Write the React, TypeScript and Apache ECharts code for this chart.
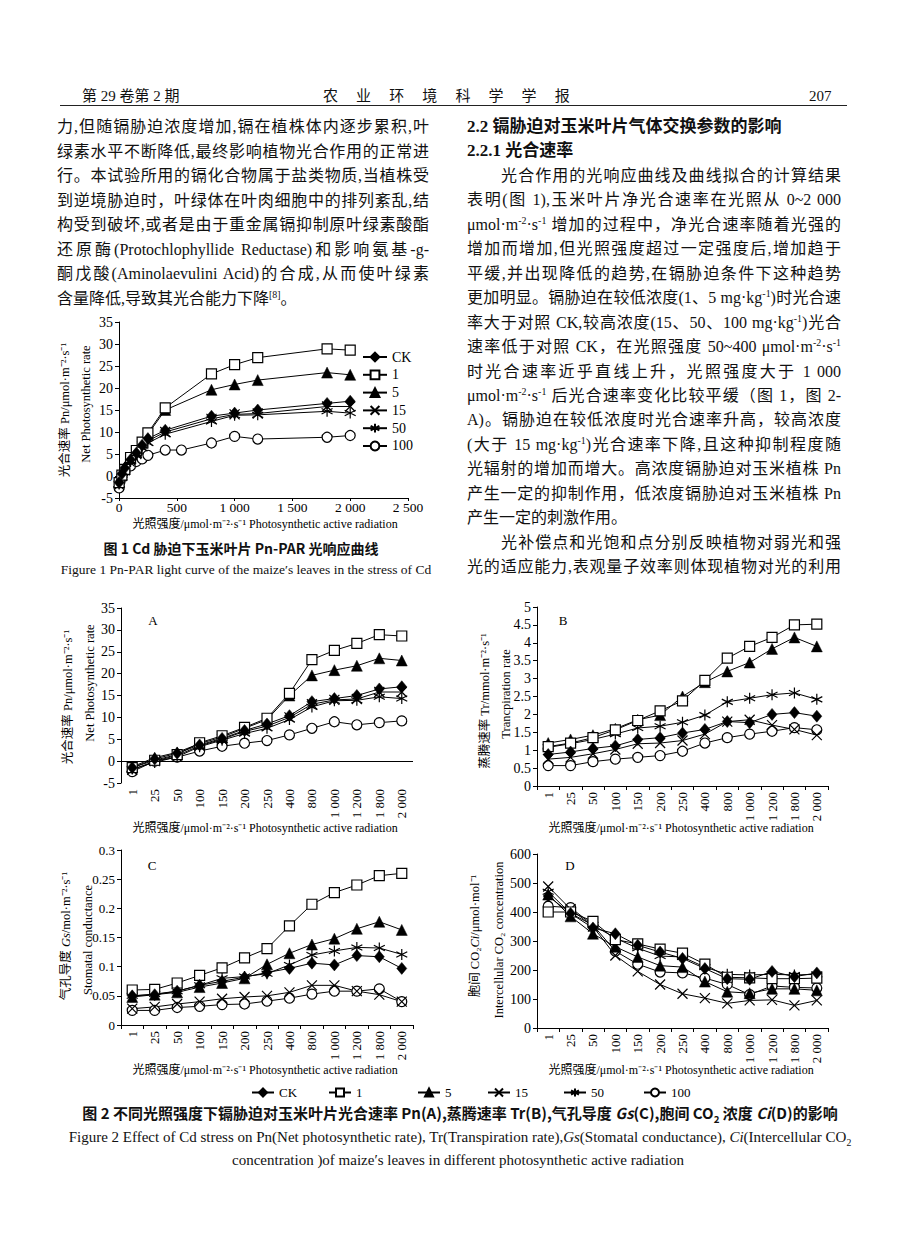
import React, { useEffect, useRef } from 'react';
import * as echarts from 'echarts';

const FONT = '"Liberation Serif", "Noto Sans CJK SC", serif';
const CJK = '"Noto Sans CJK SC", "Liberation Serif", sans-serif';

// ---------- data ----------
const SERIES_NAMES = ['CK', '1', '5', '15', '50', '100'];
const PAR_CATS = ['1', '25', '50', '100', '150', '200', '250', '400', '800', '1 000', '1 200', '1 800', '2 000'];
const PAR_VALUES = [1, 25, 50, 100, 150, 200, 250, 400, 800, 1000, 1200, 1800, 2000];

// Fig 2A Pn
const PN_CK = [-1.5, 0.5, 1.8, 3.7, 5.2, 7.0, 8.5, 10.4, 13.6, 14.3, 15.0, 16.5, 17.0];
const PN_1 = [-1.5, 0.2, 1.5, 4.2, 5.8, 7.7, 9.8, 15.5, 23.2, 25.3, 26.9, 28.9, 28.6];
const PN_5 = [-1.3, 0.8, 2.0, 4.0, 5.5, 7.5, 9.5, 15.0, 19.6, 20.8, 21.8, 23.5, 23.0];
const PN_15 = [-2.0, 0.0, 1.3, 3.5, 5.0, 6.8, 8.0, 10.0, 13.0, 14.0, 14.2, 15.8, 15.8];
const PN_50 = [-1.8, -0.3, 1.0, 3.3, 4.8, 6.3, 7.5, 9.5, 12.4, 13.8, 13.9, 14.7, 14.3];
const PN_100 = [-2.4, 0.0, 0.9, 2.3, 3.4, 4.1, 4.7, 6.0, 7.5, 9.0, 8.3, 8.8, 9.2];

// Fig 1, 100 mg/kg curve (has its own PAR points)
const FIG1_PAR_100 = [1, 10, 25, 50, 100, 150, 200, 250, 400, 540, 800, 1000, 1200, 1800, 2000];
const FIG1_PN_100 = [-2.7, -1.2, 0.0, 1.1, 2.3, 3.3, 3.9, 4.7, 5.9, 5.9, 7.5, 9.0, 8.4, 8.8, 9.2];

// Fig 2B Tr
const TR_CK = [0.88, 0.95, 1.05, 1.12, 1.3, 1.35, 1.48, 1.58, 1.8, 1.77, 2.0, 2.05, 1.95];
const TR_1 = [1.1, 1.2, 1.35, 1.57, 1.83, 2.1, 2.38, 2.95, 3.57, 3.9, 4.15, 4.5, 4.52];
const TR_5 = [1.2, 1.3, 1.42, 1.6, 1.85, 1.98, 2.5, 2.9, 3.2, 3.45, 3.83, 4.15, 3.9];
const TR_15 = [0.75, 0.8, 0.9, 1.02, 1.18, 1.2, 1.27, 1.45, 1.8, 1.85, 1.7, 1.58, 1.42];
const TR_50 = [1.08, 1.18, 1.3, 1.45, 1.62, 1.67, 1.78, 1.98, 2.35, 2.45, 2.55, 2.6, 2.42];
const TR_100 = [0.57, 0.57, 0.68, 0.75, 0.8, 0.85, 0.97, 1.2, 1.35, 1.45, 1.53, 1.63, 1.57];

// Fig 2C Gs
const GS_CK = [0.05, 0.052, 0.058, 0.068, 0.075, 0.082, 0.09, 0.097, 0.106, 0.103, 0.119, 0.117, 0.097];
const GS_1 = [0.06, 0.061, 0.072, 0.085, 0.098, 0.115, 0.131, 0.17, 0.207, 0.227, 0.24, 0.256, 0.26];
const GS_5 = [0.048, 0.052, 0.056, 0.065, 0.072, 0.08, 0.104, 0.123, 0.138, 0.148, 0.165, 0.177, 0.163];
const GS_15 = [0.028, 0.031, 0.036, 0.04, 0.045, 0.048, 0.05, 0.056, 0.068, 0.068, 0.058, 0.052, 0.04];
const GS_50 = [0.05, 0.053, 0.058, 0.068, 0.08, 0.083, 0.088, 0.103, 0.12, 0.127, 0.133, 0.132, 0.121];
const GS_100 = [0.025, 0.025, 0.03, 0.032, 0.035, 0.036, 0.041, 0.046, 0.053, 0.058, 0.058, 0.062, 0.04];

// Fig 2D Ci
const CI_CK = [455, 395, 345, 325, 285, 262, 240, 205, 170, 168, 195, 177, 190];
const CI_1 = [400, 400, 368, 305, 290, 272, 258, 220, 175, 173, 170, 170, 172];
const CI_5 = [460, 385, 325, 280, 245, 215, 210, 160, 125, 120, 135, 135, 130];
const CI_15 = [488, 410, 350, 250, 195, 150, 118, 103, 85, 95, 97, 78, 95];
const CI_50 = [470, 395, 355, 310, 275, 248, 245, 210, 185, 183, 185, 183, 185];
const CI_100 = [420, 415, 355, 265, 220, 193, 190, 172, 150, 115, 145, 140, 138];

// ---------- text ----------
const LEFT_LINES = [
  '力,但随镉胁迫浓度增加,镉在植株体内逐步累积,叶',
  '绿素水平不断降低,最终影响植物光合作用的正常进',
  '行。本试验所用的镉化合物属于盐类物质,当植株受',
  '到逆境胁迫时，叶绿体在叶肉细胞中的排列紊乱,结',
  '构受到破坏,或者是由于重金属镉抑制原叶绿素酸酯',
  '还原酶(Protochlophyllide Reductase)和影响氨基-g-',
  '酮戊酸(Aminolaevulini Acid)的合成,从而使叶绿素',
  '含量降低,导致其光合能力下降^{[8]}。',
];
const LEFT_LAST = [7];

const RIGHT_LINES = [
  '2.2  镉胁迫对玉米叶片气体交换参数的影响',
  '2.2.1  光合速率',
  '　　光合作用的光响应曲线及曲线拟合的计算结果',
  '表明(图 1),玉米叶片净光合速率在光照从 0~2 000',
  'μmol·m^{-2}·s^{-1} 增加的过程中，净光合速率随着光强的',
  '增加而增加,但光照强度超过一定强度后,增加趋于',
  '平缓,并出现降低的趋势,在镉胁迫条件下这种趋势',
  '更加明显。镉胁迫在较低浓度(1、5 mg·kg^{-1})时光合速',
  '率大于对照 CK,较高浓度(15、50、100 mg·kg^{-1})光合',
  '速率低于对照 CK，在光照强度 50~400 μmol·m^{-2}·s^{-1}',
  '时光合速率近乎直线上升，光照强度大于 1 000',
  'μmol·m^{-2}·s^{-1} 后光合速率变化比较平缓（图 1，图 2-',
  'A)。镉胁迫在较低浓度时光合速率升高，较高浓度',
  '(大于 15 mg·kg^{-1})光合速率下降,且这种抑制程度随',
  '光辐射的增加而增大。高浓度镉胁迫对玉米植株 Pn',
  '产生一定的抑制作用，低浓度镉胁迫对玉米植株 Pn',
  '产生一定的刺激作用。',
  '　　光补偿点和光饱和点分别反映植物对弱光和强',
  '光的适应能力,表观量子效率则体现植物对光的利用',
];
const RIGHT_BOLD = [0, 1];
const RIGHT_LAST = [0, 1, 16];

// ---------- chart helpers ----------
const SYM: Record<string, any> = {
  CK: { symbol: 'diamond', size: [10, 12], kind: 'filled' },
  '1': { symbol: 'rect', size: 10, kind: 'open' },
  '5': { symbol: 'triangle', size: 11, kind: 'filled' },
  '15': { symbol: 'path://M0,0L10,10M10,0L0,10', size: 10, kind: 'stroke' },
  '50': { symbol: 'path://M5,0L5,10M0,2.5L10,7.5M0,7.5L10,2.5', size: 11, kind: 'stroke' },
  '100': { symbol: 'circle', size: 10, kind: 'open' },
};

function itemStyleFor(name: string) {
  const k = SYM[name].kind;
  if (k === 'filled') return { color: '#000', borderColor: '#000', borderWidth: 0.5 };
  if (k === 'open') return { color: '#fff', borderColor: '#000', borderWidth: 1.2 };
  return { color: 'rgba(0,0,0,0)', borderColor: '#000', borderWidth: 1.2 };
}

function mkSeries(name: string, data: any[], gi: number, extra: any = {}) {
  return {
    type: 'line',
    name,
    xAxisIndex: gi,
    yAxisIndex: gi,
    data,
    symbol: SYM[name].symbol,
    symbolSize: SYM[name].size,
    showAllSymbol: true,
    lineStyle: { color: '#000', width: 1 },
    itemStyle: itemStyleFor(name),
    emphasis: { disabled: true },
    silent: true,
    ...extra,
  };
}

const thousands = (v: number) =>
  v >= 1000 ? `${Math.floor(v / 1000)} ${String(v % 1000).padStart(3, '0')}` : String(v);

const lineBlack = { show: true, onZero: false, lineStyle: { color: '#000', width: 1 } };

function yAxis(gi: number, min: number, max: number, interval: number, fontSize = 14) {
  return {
    type: 'value',
    gridIndex: gi,
    min,
    max,
    interval,
    axisLine: lineBlack,
    axisTick: { show: true, length: 4, lineStyle: { color: '#000' } },
    splitLine: { show: false },
    axisLabel: { color: '#000', fontFamily: FONT, fontSize, margin: 6 },
  };
}

function catAxis(gi: number, showLine: boolean) {
  return {
    type: 'category',
    gridIndex: gi,
    data: PAR_CATS,
    boundaryGap: true,
    axisLine: { ...lineBlack, show: showLine },
    axisTick: { show: showLine, length: 4, lineStyle: { color: '#000' } },
    splitLine: { show: false },
    axisLabel: { color: '#000', fontFamily: FONT, fontSize: 13, rotate: 90, margin: 6, interval: 0 },
  };
}

const R = (size = 12.5) => ({
  n: { fontFamily: FONT, fontSize: size, fill: '#000' },
  i: { fontFamily: FONT, fontSize: size, fontStyle: 'italic', fill: '#000' },
});

function vtext(x: number, y: number, text: string, rich = false, size = 12.5) {
  return {
    type: 'text',
    x,
    y,
    rotation: Math.PI / 2,
    silent: true,
    style: {
      text,
      ...(rich ? { rich: R(size) } : {}),
      font: `${size}px ${FONT}`,
      fill: '#000',
      align: 'center',
      verticalAlign: 'middle',
    },
  };
}

function htext(x: number, y: number, text: string, size = 12, align = 'center') {
  return {
    type: 'text',
    x,
    y,
    silent: true,
    style: { text, font: `${size}px ${FONT}`, fill: '#000', align, verticalAlign: 'middle' },
  };
}

const X_TITLE = '光照强度/μmol·m⁻²·s⁻¹ Photosynthetic active radiation';

function buildOption() {
  const grids = [
    { left: 119, top: 322, width: 289, height: 176 },
    { left: 121, top: 608, width: 292, height: 175 },
    { left: 537, top: 607, width: 291, height: 179 },
    { left: 121, top: 850, width: 292, height: 175 },
    { left: 537, top: 854, width: 291, height: 174 },
  ];

  const xAxes: any[] = [
    {
      type: 'value',
      gridIndex: 0,
      min: 0,
      max: 2500,
      interval: 500,
      axisLine: lineBlack,
      axisTick: { show: true, length: 3, lineStyle: { color: '#000' } },
      splitLine: { show: false },
      axisLabel: { color: '#000', fontFamily: FONT, fontSize: 13.5, margin: 3, formatter: thousands },
    },
    catAxis(1, false),
    catAxis(2, true),
    catAxis(3, true),
    catAxis(4, true),
  ];
  const yAxes: any[] = [
    yAxis(0, -5, 35, 5),
    yAxis(1, -5, 35, 5),
    yAxis(2, 0, 5, 0.5),
    yAxis(3, 0, 0.3, 0.05, 13),
    yAxis(4, 0, 600, 100),
  ];

  const pair = (ys: number[], xs: number[] = PAR_VALUES) => xs.map((x, i) => [x, ys[i]]);

  const groups: Record<string, number[][]> = {
    PN: [PN_CK, PN_1, PN_5, PN_15, PN_50, PN_100],
    TR: [TR_CK, TR_1, TR_5, TR_15, TR_50, TR_100],
    GS: [GS_CK, GS_1, GS_5, GS_15, GS_50, GS_100],
    CI: [CI_CK, CI_1, CI_5, CI_15, CI_50, CI_100],
  };

  const series: any[] = [];
  const order = [5, 4, 3, 2, 1, 0];
  // Figure 1
  order.forEach((k) => {
    const name = SERIES_NAMES[k];
    const data = name === '100' ? pair(FIG1_PN_100, FIG1_PAR_100) : pair(groups.PN[k]);
    series.push(mkSeries(name, data, 0));
  });
  // Figure 2
  (['PN', 'TR', 'GS', 'CI'] as const).forEach((g, gi) => {
    order.forEach((k, idx) => {
      const extra: any = {};
      if (g === 'PN' && idx === 0) {
        extra.markLine = {
          silent: true,
          symbol: 'none',
          label: { show: false },
          lineStyle: { color: '#000', type: 'solid', width: 1 },
          data: [{ yAxis: 0 }],
        };
      }
      series.push(mkSeries(SERIES_NAMES[k], groups[g][k], gi + 1, extra));
    });
  });

  const legendText = { color: '#000', fontFamily: FONT, fontSize: 14 };
  const legends: any[] = [
    {
      orient: 'vertical',
      left: 357,
      top: 345,
      itemWidth: 24,
      itemHeight: 11,
      itemGap: 3.8,
      selectedMode: false,
      textStyle: legendText,
      data: SERIES_NAMES,
    },
  ];
  const fig2LegendX = [246, 323, 412, 482, 558, 638];
  SERIES_NAMES.forEach((n, i) => {
    legends.push({
      left: fig2LegendX[i],
      top: 1081,
      itemWidth: 22,
      itemHeight: 10,
      selectedMode: false,
      textStyle: { ...legendText, fontSize: 13 },
      data: [n],
    });
  });

  const graphic: any[] = [
    // Figure 1 axis titles
    vtext(65, 410, '光合速率 Pn/μmol·m⁻²·s⁻¹'),
    vtext(86, 404, 'Net Photosynthetic rate'),
    htext(265, 524, X_TITLE),
    // A
    vtext(68, 697, '光合速率 Pn/μmol·m⁻²·s⁻¹'),
    vtext(90, 683, 'Net Photosynthetic rate'),
    htext(265, 828, X_TITLE),
    htext(153, 620, 'A', 13),
    // B
    vtext(485, 701, '蒸腾速率 Tr/mmol·m⁻²·s⁻¹'),
    vtext(506, 694, 'Trancpiration rate'),
    htext(681, 828, X_TITLE),
    htext(563, 620, 'B', 13),
    // C
    vtext(66, 936, '{n|气孔导度 }{i|Gs}{n|/mol·m⁻²·s⁻¹}', true),
    vtext(88, 940, 'Stomatal conductance'),
    htext(265, 1070, X_TITLE),
    htext(152, 865, 'C', 13),
    // D
    vtext(475, 936, '{n|胞间 CO₂}{i|Ci}{n|/μmol·mol⁻¹}', true),
    vtext(499, 940, 'Intercellular CO₂ concentration'),
    htext(681, 1070, X_TITLE),
    htext(570, 865, 'D', 13),
  ];

  return {
    animation: false,
    backgroundColor: 'transparent',
    textStyle: { fontFamily: FONT, color: '#000' },
    grid: grids,
    xAxis: xAxes,
    yAxis: yAxes,
    legend: legends,
    series,
    graphic,
  };
}

// ---------- text rendering ----------
function renderRich(s: string) {
  const parts = s.split(/\^\{([^}]*)\}/);
  return parts.map((p, i) =>
    i % 2 ? (
      <sup key={i} style={{ fontSize: '0.62em', verticalAlign: '0.6em', lineHeight: 0 }}>
        {p}
      </sup>
    ) : (
      <span key={i}>{p}</span>
    )
  );
}

function TextLine(props: { x: number; y: number; w: number; text: string; last?: boolean; bold?: boolean; size?: number }) {
  const { x, y, w, text, last, bold, size = 16 } = props;
  return (
    <div
      style={{
        position: 'absolute',
        left: x,
        top: y - 12,
        width: w,
        height: 24,
        lineHeight: '24px',
        fontSize: size,
        fontFamily: FONT,
        fontWeight: bold ? 700 : 400,
        textAlign: 'justify',
        textAlignLast: last ? 'left' : 'justify',
        color: '#111',
        whiteSpace: 'normal',
        overflow: 'visible',
      } as any}
    >
      {renderRich(text)}
    </div>
  );
}

function Centered(props: { cx: number; y: number; w: number; children: any; size: number; bold?: boolean; font?: string }) {
  const { cx, y, w, children, size, bold, font } = props;
  return (
    <div
      style={{
        position: 'absolute',
        left: cx - w / 2,
        top: y - 11,
        width: w,
        height: 22,
        lineHeight: '22px',
        textAlign: 'center',
        fontSize: size,
        fontWeight: bold ? 700 : 400,
        fontFamily: font || FONT,
        color: '#111',
        whiteSpace: 'nowrap',
      }}
    >
      {children}
    </div>
  );
}

export default function App() {
  const ref = useRef<HTMLDivElement>(null);
  useEffect(() => {
    if (!ref.current) return;
    const chart = echarts.init(ref.current, undefined, { renderer: 'svg', width: 920, height: 1247 });
    chart.setOption(buildOption() as any);
    return () => chart.dispose();
  }, []);

  return (
    <div style={{ position: 'absolute', left: 0, top: 0, width: 920, height: 1247, background: '#fff', overflow: 'hidden' }}>
      <div ref={ref} style={{ position: 'absolute', left: 0, top: 0, width: 920, height: 1247 }} />

      {/* header */}
      <div style={{ position: 'absolute', left: 82, top: 86, fontSize: 15, lineHeight: '20px', fontFamily: FONT, color: '#111' }}>
        第 29 卷第 2 期
      </div>
      <div
        style={{
          position: 'absolute',
          left: 323,
          top: 86,
          fontSize: 15,
          lineHeight: '20px',
          letterSpacing: 18.1,
          fontFamily: FONT,
          color: '#111',
          whiteSpace: 'nowrap',
        }}
      >
        农业环境科学学报
      </div>
      <div style={{ position: 'absolute', left: 809, top: 86, fontSize: 15, lineHeight: '20px', fontFamily: FONT, color: '#111' }}>
        207
      </div>
      <div style={{ position: 'absolute', left: 60, top: 105, width: 787, height: 0, borderTop: '1.5px solid #222' }} />

      {LEFT_LINES.map((t, i) => (
        <TextLine key={'l' + i} x={57} y={127 + i * 24.5} w={372} text={t} last={LEFT_LAST.includes(i)} />
      ))}
      {RIGHT_LINES.map((t, i) => (
        <TextLine
          key={'r' + i}
          x={467}
          y={127 + i * 24.45}
          w={374}
          text={t}
          last={RIGHT_LAST.includes(i)}
          bold={RIGHT_BOLD.includes(i)}
          size={RIGHT_BOLD.includes(i) ? 17 : 16}
        />
      ))}

      {/* figure 1 caption */}
      <Centered cx={241} y={548} w={400} size={14} bold font={CJK}>
        图 1  Cd 胁迫下玉米叶片 Pn-PAR 光响应曲线
      </Centered>
      <Centered cx={246} y={570} w={420} size={13.5}>
        Figure 1  Pn-PAR light curve of the maize′s leaves in the stress of Cd
      </Centered>

      {/* figure 2 caption */}
      <Centered cx={460} y={1113} w={820} size={15} bold font={CJK}>
        图 2  不同光照强度下镉胁迫对玉米叶片光合速率 Pn(A),蒸腾速率 Tr(B),气孔导度 <i>Gs</i>(C),胞间 CO<sub style={{ fontSize: '0.65em' }}>2</sub> 浓度 <i>Ci</i>(D)的影响
      </Centered>
      <Centered cx={460} y={1137} w={820} size={15}>
        Figure 2  Effect of Cd stress on Pn(Net photosynthetic rate), Tr(Transpiration rate),<i>Gs</i>(Stomatal conductance), <i>Ci</i>(Intercellular CO<sub style={{ fontSize: '0.65em' }}>2</sub>
      </Centered>
      <Centered cx={458} y={1160} w={820} size={15}>
        concentration )of maize′s leaves in different photosynthetic active radiation
      </Centered>
    </div>
  );
}
